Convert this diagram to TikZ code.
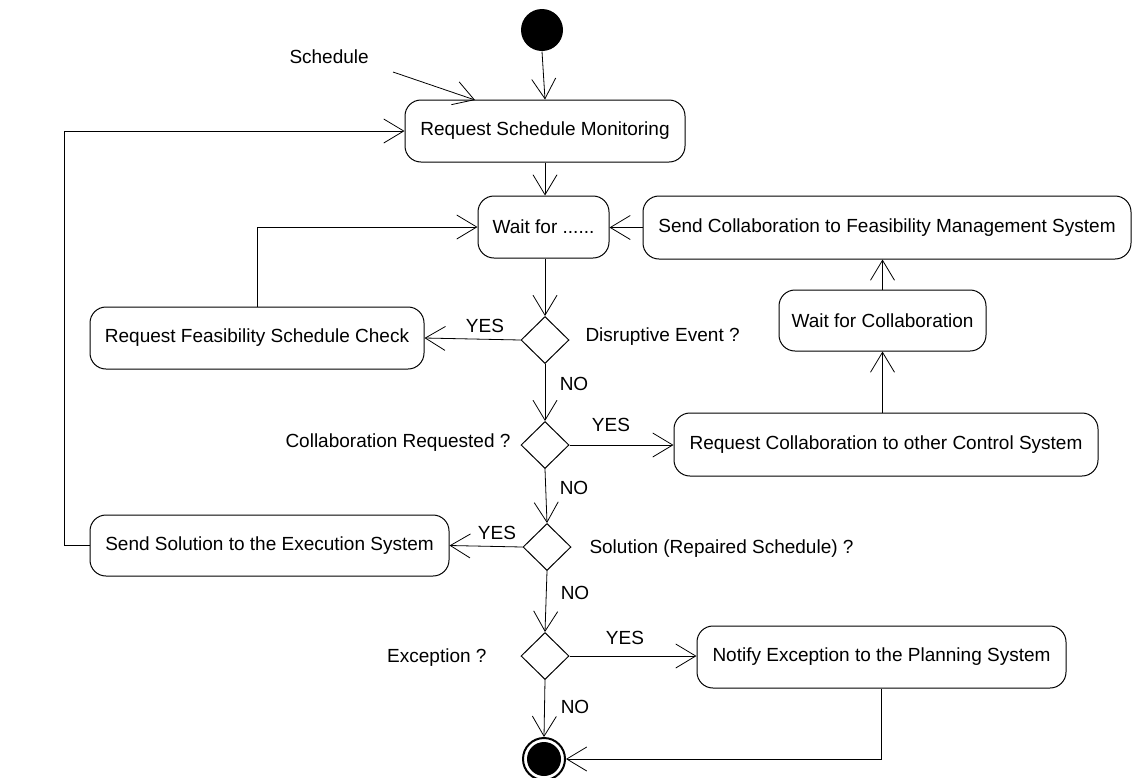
\documentclass[tikz,border=0pt]{standalone}
\usepackage{fontspec}
\setmainfont{Liberation Sans}
\usetikzlibrary{arrows.meta,shapes.geometric}
\begin{document}
\begin{tikzpicture}[x=1pt,y=-1pt,
  font=\fontsize{19}{23}\selectfont,
  line width=1pt,
  act/.style={draw, rounded corners=16pt, inner sep=0pt, align=center},
  dec/.style={draw, diamond, aspect=1, inner sep=0pt, minimum width=48pt, minimum height=47pt},
  arr/.style={-{Straight Barb[length=20pt,width=24pt,line width=0.8pt]}, line width=0.8pt},
  lbl/.style={inner sep=0pt}]
\useasboundingbox (0,0) rectangle (1143,777);
% initial and final
\node[circle, fill=black, minimum size=42pt, inner sep=0pt] (start) at (542,30) {};
\node[circle, draw, line width=2pt, minimum size=42pt, inner sep=0pt] (end) at (544,759) {};
\fill (end.center) circle (17pt);
% activities
\node[act, minimum width=280pt, minimum height=62pt] (rsm) at (545,131) {Request Schedule Monitoring};
\node[act, minimum width=131pt, minimum height=62pt] (wait) at (543.5,227) {Wait for ......};
\node[act, minimum width=488pt, minimum height=63pt] (scfms) at (887,227.5) {Send Collaboration to Feasibility Management System};
\node[act, minimum width=334pt, minimum height=62pt] (rfsc) at (257,338) {Request Feasibility Schedule Check};
\node[act, minimum width=207pt, minimum height=61pt] (wfc) at (882.5,320.5) {Wait for Collaboration};
\node[act, minimum width=424pt, minimum height=63pt] (rcocs) at (886,444.5) {Request Collaboration to other Control System};
\node[act, minimum width=359pt, minimum height=61pt] (sses) at (269.5,545.5) {Send Solution to the Execution System};
\node[act, minimum width=369pt, minimum height=62pt] (neps) at (881.5,657) {Notify Exception to the Planning System};
% decisions
\node[dec] (d1) at (545,340) {};
\node[dec] (d2) at (545,445) {};
\node[dec] (d3) at (547,547) {};
\node[dec] (d4) at (545,656) {};
% texts
\node[lbl, anchor=west] (tsch) at (289,57) {Schedule};
\node[lbl, anchor=west] (t1) at (585,337) {Disruptive Event ?};
\node[lbl, anchor=east] (t2) at (511,443) {Collaboration Requested ?};
\node[lbl, anchor=west] (t3) at (589,549) {Solution (Repaired Schedule) ?};
\node[lbl, anchor=east] (t4) at (487,658) {Exception ?};
\node[lbl] (y1) at (485,326) {YES};
\node[lbl] (y2) at (611,425) {YES};
\node[lbl] (y3) at (497,533) {YES};
\node[lbl] (y4) at (625,638) {YES};
\node[lbl] (n1) at (574,384) {NO};
\node[lbl] (n2) at (574,488) {NO};
\node[lbl] (n3) at (575,593) {NO};
\node[lbl] (n4) at (575,707) {NO};
% connectors
\coordinate (schs) at (393,72);
\coordinate (sche) at (475,100);
\draw[arr] (schs) -- (sche);
\draw[arr] (start.south) -- (rsm.north);
\draw[arr] (rsm.south) -- (rsm.south |- wait.north);
\draw[arr] (scfms.west) -- (scfms.west -| wait.east);
\draw[arr] (rfsc.north) -- (rfsc.north |- wait.west) -- (wait.west);
\draw[arr] (d1.north |- wait.south) -- (d1.north);
\draw[arr] (d1.west) -- (rfsc.east);
\draw[arr] (d1.south) -- (d2.north);
\draw[arr] (d2.east) -- (d2.east -| rcocs.west);
\draw[arr] (rcocs.north -| wfc.south) -- (wfc.south);
\draw[arr] (wfc.north) -- (wfc.north |- scfms.south);
\draw[arr] (d2.south) -- (d3.north);
\draw[arr] (d3.west) -- (sses.east);
\draw[arr] (sses.west) -- ++(-25,0) |- (rsm.west);
\draw[arr] (d3.south) -- (d4.north);
\draw[arr] (d4.east) -- (d4.east -| neps.west);
\draw[arr] (d4.south) -- (end.north);
\draw[arr] (neps.south) |- (end.east);
\end{tikzpicture}
\end{document}
